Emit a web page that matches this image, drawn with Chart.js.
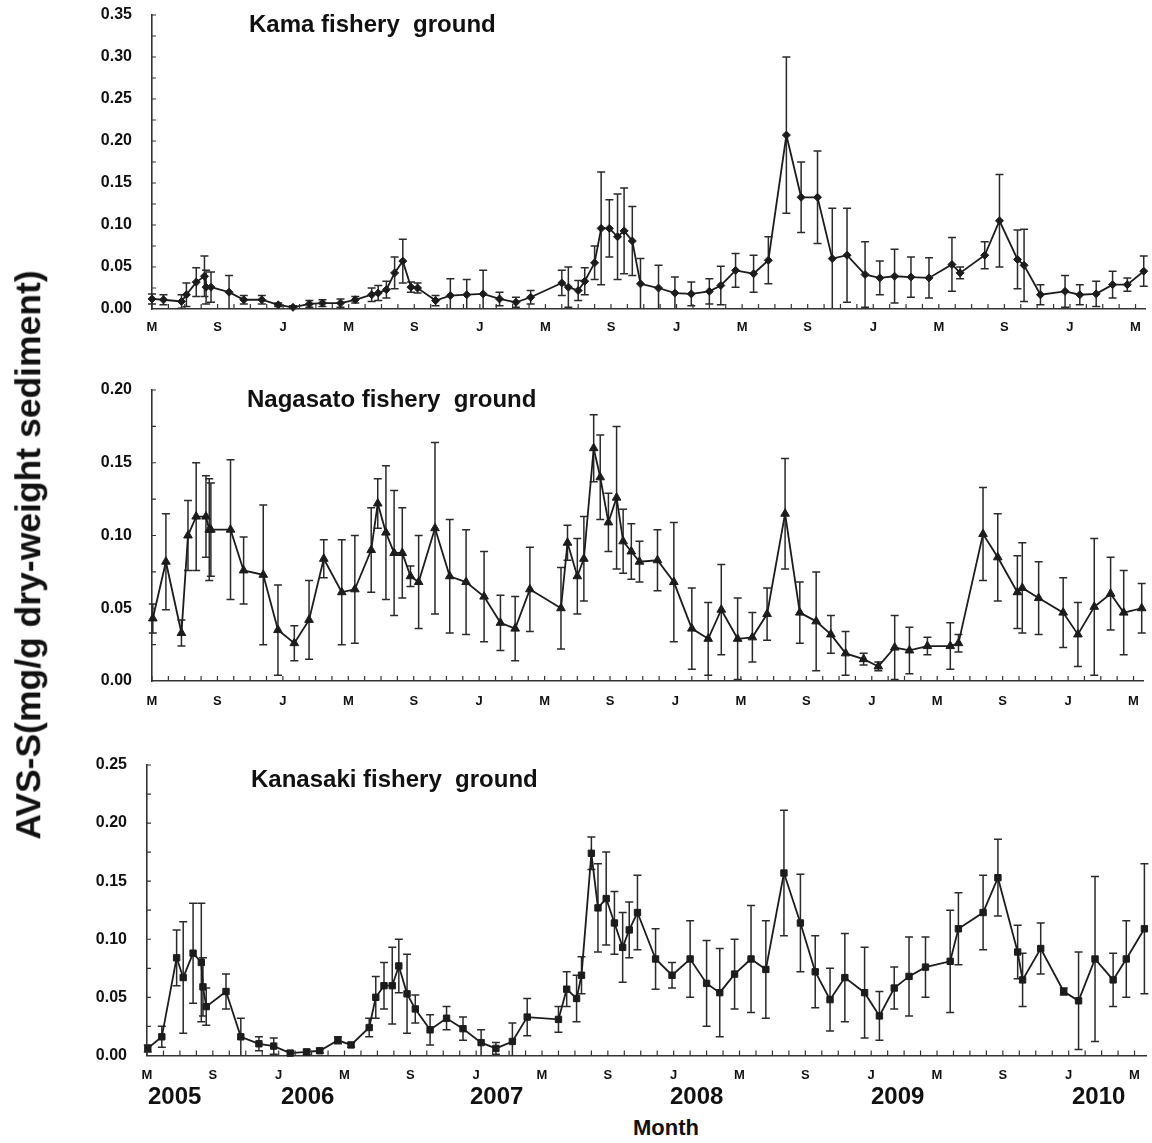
<!DOCTYPE html>
<html>
<head>
<meta charset="utf-8">
<script src="https://cdn.jsdelivr.net/npm/chart.js@4.4.1/dist/chart.umd.min.js"></script>
<style>
  body { margin: 0; background: #fff; width: 1152px; height: 1143px; position: relative; overflow: hidden;
         font-family: "Liberation Sans", Arial, sans-serif; color: #111; }
  canvas { position: absolute; left: 0; }
  .title { position: absolute; font-weight: bold; font-size: 24px; line-height: 1; white-space: pre; }
  .year { position: absolute; top: 1084px; font-weight: bold; font-size: 24px; line-height: 1; }
  #ylab { position: absolute; left: 29px; top: 555px; transform: translate(-50%, -50%) rotate(-90deg);
          font-weight: bold; font-size: 35.5px; line-height: 1; white-space: nowrap; }
  #xlab { position: absolute; left: 633px; top: 1117px; font-weight: bold; font-size: 22px; line-height: 1; }
</style>
</head>
<body>
<canvas id="kama" width="1152" height="355" style="top:-15px"></canvas>
<canvas id="naga" width="1152" height="355" style="top:360px"></canvas>
<canvas id="kana" width="1152" height="350" style="top:735px"></canvas>

<div class="title" style="left:249px;top:12px">Kama fishery  ground</div>
<div class="title" style="left:247px;top:387px">Nagasato fishery  ground</div>
<div class="title" style="left:251px;top:767px">Kanasaki fishery  ground</div>

<div class="year" style="left:148px">2005</div>
<div class="year" style="left:281px">2006</div>
<div class="year" style="left:470px">2007</div>
<div class="year" style="left:670px">2008</div>
<div class="year" style="left:871px">2009</div>
<div class="year" style="left:1072px">2010</div>

<div id="ylab">AVS-S(mg/g dry-weight sediment)</div>
<div id="xlab">Month</div>

<script>
// x = months after May 2005, tick every 4 months (May / Sep / Jan)
const tickLabels = ['M', 'S', 'J', 'M', 'S', 'J', 'M', 'S', 'J', 'M', 'S', 'J', 'M', 'S', 'J', 'M'];

// Kama fishery ground
const kamaMonth = [0, 0.7, 1.8, 2.1, 2.7, 3.2, 3.3, 3.6, 4.7, 5.6, 6.7, 7.7, 8.6, 9.6, 10.4, 11.5, 12.4, 13.4, 13.8, 14.3,
  14.8, 15.3, 15.8, 16.2, 17.3, 18.2, 19.2, 20.2, 21.2, 22.2, 23.1, 25.0, 25.4, 26.0, 26.4, 27.0, 27.4, 27.9, 28.4, 28.8,
  29.3, 29.8, 30.9, 31.9, 32.9, 34.0, 34.7, 35.6, 36.7, 37.6, 38.7, 39.6, 40.6, 41.5, 42.4, 43.5, 44.4, 45.3, 46.3, 47.4,
  48.8, 49.3, 50.8, 51.7, 52.8, 53.2, 54.2, 55.7, 56.6, 57.6, 58.6, 59.5, 60.5];
const kamaAvs = [0.012, 0.011, 0.009, 0.017, 0.032, 0.039, 0.026, 0.026, 0.020, 0.011, 0.011, 0.005, 0.002, 0.006, 0.007, 0.007, 0.011, 0.017, 0.019, 0.023,
  0.043, 0.057, 0.026, 0.025, 0.010, 0.016, 0.017, 0.018, 0.012, 0.008, 0.014, 0.031, 0.026, 0.022, 0.033, 0.055, 0.096, 0.096, 0.086, 0.093,
  0.081, 0.030, 0.025, 0.019, 0.018, 0.021, 0.028, 0.046, 0.042, 0.058, 0.207, 0.133, 0.133, 0.060, 0.064, 0.041, 0.037, 0.039, 0.038, 0.037,
  0.053, 0.043, 0.064, 0.105, 0.059, 0.052, 0.017, 0.021, 0.017, 0.018, 0.029, 0.029, 0.045];
const kamaSd = [0.006, 0.006, 0.008, 0.014, 0.017, 0.024, 0.020, 0.018, 0.020, 0.005, 0.005, 0.002, 0.002, 0.004, 0.004, 0.005, 0.004, 0.008, 0.009, 0.010,
  0.019, 0.026, 0.006, 0.006, 0.006, 0.020, 0.018, 0.028, 0.008, 0.006, 0.008, 0.015, 0.024, 0.012, 0.016, 0.020, 0.067, 0.034, 0.051, 0.051,
  0.041, 0.030, 0.027, 0.019, 0.014, 0.015, 0.023, 0.020, 0.022, 0.028, 0.093, 0.042, 0.055, 0.060, 0.056, 0.039, 0.020, 0.032, 0.024, 0.024,
  0.032, 0.007, 0.016, 0.055, 0.035, 0.043, 0.012, 0.019, 0.012, 0.015, 0.016, 0.008, 0.018];

// Nagasato fishery ground
const nagaMonth = [0.05, 0.85, 1.8, 2.2, 2.7, 3.3, 3.5, 3.6, 4.8, 5.6, 6.8, 7.7, 8.7, 9.6, 10.5, 11.6, 12.4, 13.4, 13.8, 14.3,
  14.8, 15.3, 15.8, 16.3, 17.3, 18.2, 19.2, 20.3, 21.3, 22.2, 23.1, 25.0, 25.4, 26.0, 26.4, 27.0, 27.4, 27.9, 28.4, 28.8,
  29.3, 29.8, 30.9, 31.9, 33.0, 34.0, 34.8, 35.8, 36.7, 37.6, 38.7, 39.6, 40.6, 41.5, 42.4, 43.5, 44.4, 45.4, 46.3, 47.4,
  48.8, 49.3, 50.8, 51.7, 52.9, 53.2, 54.2, 55.7, 56.6, 57.6, 58.6, 59.4, 60.5];
const nagaAvs = [0.043, 0.082, 0.033, 0.100, 0.113, 0.113, 0.104, 0.104, 0.104, 0.076, 0.073, 0.035, 0.026, 0.042, 0.084, 0.061, 0.063, 0.090, 0.122, 0.102,
  0.088, 0.088, 0.072, 0.068, 0.105, 0.072, 0.068, 0.058, 0.040, 0.036, 0.063, 0.050, 0.095, 0.072, 0.084, 0.160, 0.140, 0.109, 0.126, 0.096,
  0.089, 0.082, 0.083, 0.068, 0.036, 0.029, 0.049, 0.029, 0.030, 0.046, 0.115, 0.047, 0.041, 0.032, 0.019, 0.015, 0.010, 0.023, 0.021, 0.024,
  0.024, 0.026, 0.101, 0.085, 0.061, 0.064, 0.057, 0.047, 0.032, 0.051, 0.060, 0.047, 0.050];
const nagaSd = [0.010, 0.033, 0.009, 0.024, 0.037, 0.028, 0.035, 0.032, 0.048, 0.023, 0.048, 0.031, 0.012, 0.027, 0.013, 0.036, 0.037, 0.029, 0.017, 0.046,
  0.043, 0.031, 0.007, 0.032, 0.059, 0.039, 0.036, 0.031, 0.019, 0.022, 0.029, 0.028, 0.012, 0.026, 0.029, 0.023, 0.029, 0.020, 0.049, 0.022,
  0.019, 0.014, 0.021, 0.041, 0.028, 0.025, 0.031, 0.028, 0.017, 0.018, 0.038, 0.021, 0.034, 0.013, 0.015, 0.004, 0.003, 0.022, 0.016, 0.006,
  0.016, 0.006, 0.032, 0.030, 0.025, 0.031, 0.025, 0.024, 0.022, 0.047, 0.025, 0.029, 0.017];

// Kanasaki fishery ground
const kanaMonth = [0.05, 0.9, 1.8, 2.2, 2.8, 3.3, 3.4, 3.6, 4.8, 5.7, 6.8, 7.7, 8.7, 9.7, 10.5, 11.6, 12.4, 13.5, 13.9, 14.4,
  14.9, 15.3, 15.8, 16.3, 17.2, 18.2, 19.2, 20.3, 21.2, 22.2, 23.1, 25.0, 25.5, 26.1, 26.4, 27.0, 27.4, 27.9, 28.4, 28.9,
  29.3, 29.8, 30.9, 31.9, 33.0, 34.0, 34.8, 35.7, 36.7, 37.6, 38.7, 39.7, 40.6, 41.5, 42.4, 43.6, 44.5, 45.4, 46.3, 47.3,
  48.8, 49.3, 50.8, 51.7, 52.9, 53.2, 54.3, 55.7, 56.6, 57.6, 58.7, 59.5, 60.6];
const kanaAvs = [0.006, 0.016, 0.084, 0.067, 0.088, 0.080, 0.059, 0.042, 0.055, 0.016, 0.010, 0.008, 0.002, 0.003, 0.004, 0.013, 0.009, 0.024, 0.050, 0.060,
  0.060, 0.077, 0.053, 0.040, 0.022, 0.032, 0.023, 0.011, 0.006, 0.012, 0.033, 0.031, 0.057, 0.049, 0.069, 0.174, 0.127, 0.135, 0.114, 0.093,
  0.108, 0.123, 0.083, 0.069, 0.083, 0.062, 0.054, 0.070, 0.083, 0.074, 0.157, 0.114, 0.072, 0.048, 0.067, 0.054, 0.034, 0.058, 0.068, 0.076,
  0.081, 0.109, 0.123, 0.153, 0.089, 0.065, 0.092, 0.055, 0.047, 0.083, 0.065, 0.083, 0.109];
const kanaSd = [0.003, 0.009, 0.024, 0.048, 0.043, 0.051, 0.025, 0.016, 0.015, 0.016, 0.006, 0.007, 0.002, 0.002, 0.002, 0.003, 0.002, 0.008, 0.018, 0.020,
  0.033, 0.023, 0.034, 0.012, 0.013, 0.010, 0.010, 0.011, 0.005, 0.016, 0.016, 0.011, 0.015, 0.020, 0.016, 0.014, 0.038, 0.040, 0.027, 0.030,
  0.024, 0.032, 0.026, 0.011, 0.033, 0.037, 0.038, 0.030, 0.046, 0.042, 0.054, 0.042, 0.031, 0.027, 0.038, 0.039, 0.021, 0.018, 0.034, 0.026,
  0.044, 0.031, 0.032, 0.033, 0.023, 0.023, 0.022, 0.003, 0.042, 0.071, 0.023, 0.033, 0.056];

const INK = '#1c1c1c';

// mean ± SD whiskers with caps, clipped at the x axis
const errorBars = {
  id: 'errorBars',
  beforeDatasetsDraw(chart) {
    const { ctx, chartArea, scales: { y } } = chart;
    const ds = chart.data.datasets[0];
    const meta = chart.getDatasetMeta(0);
    ctx.save();
    ctx.strokeStyle = '#2a2a2a';
    ctx.lineWidth = 1.5;
    meta.data.forEach((pt, i) => {
      const v = ds.data[i].y, sd = ds.sd[i];
      const top = y.getPixelForValue(v + sd);
      const low = v - sd;
      const bot = Math.min(y.getPixelForValue(Math.max(low, 0)), chartArea.bottom);
      ctx.beginPath();
      ctx.moveTo(pt.x, top); ctx.lineTo(pt.x, bot);
      ctx.moveTo(pt.x - 4, top); ctx.lineTo(pt.x + 4, top);
      if (low > 0) { ctx.moveTo(pt.x - 4, bot); ctx.lineTo(pt.x + 4, bot); }
      ctx.stroke();
    });
    ctx.restore();
  }
};

// small inward ticks: every month on x, every 0.025 on y
const innerTicks = {
  id: 'innerTicks',
  afterDraw(chart) {
    const { ctx, chartArea, scales: { x, y } } = chart;
    ctx.save();
    ctx.strokeStyle = '#333';
    ctx.lineWidth = 1.2;
    ctx.beginPath();
    for (let m = 0; m <= 60; m++) {
      const px = x.getPixelForValue(m);
      ctx.moveTo(px, chartArea.bottom); ctx.lineTo(px, chartArea.bottom - 5);
    }
    for (let v = 0.025; v <= y.max + 1e-9; v += 0.025) {
      const py = y.getPixelForValue(v);
      ctx.moveTo(chartArea.left, py); ctx.lineTo(chartArea.left + 4, py);
    }
    ctx.stroke();
    ctx.restore();
  }
};

function drawPanel(id, months, avs, sd, marker, radius, yMax, geo) {
  const canvas = document.getElementById(id);
  new Chart(canvas, {
    type: 'line',
    data: {
      datasets: [{
        data: months.map((m, i) => ({ x: m, y: avs[i] })),
        sd: sd,
        borderColor: INK,
        borderWidth: 1.8,
        pointStyle: marker,
        pointRadius: radius,
        pointBackgroundColor: INK,
        pointBorderColor: INK,
        pointBorderWidth: 1,
        tension: 0,
        clip: false
      }]
    },
    options: {
      responsive: false,
      animation: false,
      events: [],
      layout: { padding: { top: 30, right: 2, bottom: 0, left: 0 } },
      plugins: { legend: { display: false }, tooltip: { enabled: false } },
      scales: {
        x: {
          type: 'linear',
          min: 0,
          max: geo.xMax,
          afterBuildTicks: (scale) => { scale.ticks = tickLabels.map((_, i) => ({ value: i * 4 })); },
          afterFit: (scale) => { scale.height = geo.xHeight; },
          ticks: {
            autoSkip: false,
            maxRotation: 0,
            padding: geo.tickPad,
            color: '#111',
            font: { family: 'Liberation Sans', weight: 'bold', size: 13 },
            callback: (v, i) => tickLabels[i]
          },
          grid: { drawOnChartArea: false, drawTicks: false },
          border: { color: '#333', width: 1.6 }
        },
        y: {
          min: 0,
          max: yMax,
          afterFit: (scale) => { scale.width = geo.left; },
          ticks: {
            stepSize: 0.05,
            padding: 20,
            color: '#111',
            font: { family: 'Liberation Sans', weight: 'bold', size: 16 },
            callback: (v) => v.toFixed(2)
          },
          grid: { drawOnChartArea: false, drawTicks: false },
          border: { color: '#333', width: 1.6 }
        }
      }
    },
    plugins: [errorBars, innerTicks]
  });
}

drawPanel('kama', kamaMonth, kamaAvs, kamaSd, 'rectRot', 4, 0.35, { left: 152, xHeight: 31, xMax: 60.6, tickPad: 11 });
drawPanel('naga', nagaMonth, nagaAvs, nagaSd, 'triangle', 5, 0.20, { left: 152, xHeight: 34, xMax: 60.6, tickPad: 13 });
drawPanel('kana', kanaMonth, kanaAvs, kanaSd, 'rect', 4.5, 0.25, { left: 147, xHeight: 25, xMax: 60.7, tickPad: 12 });
</script>
</body>
</html>
